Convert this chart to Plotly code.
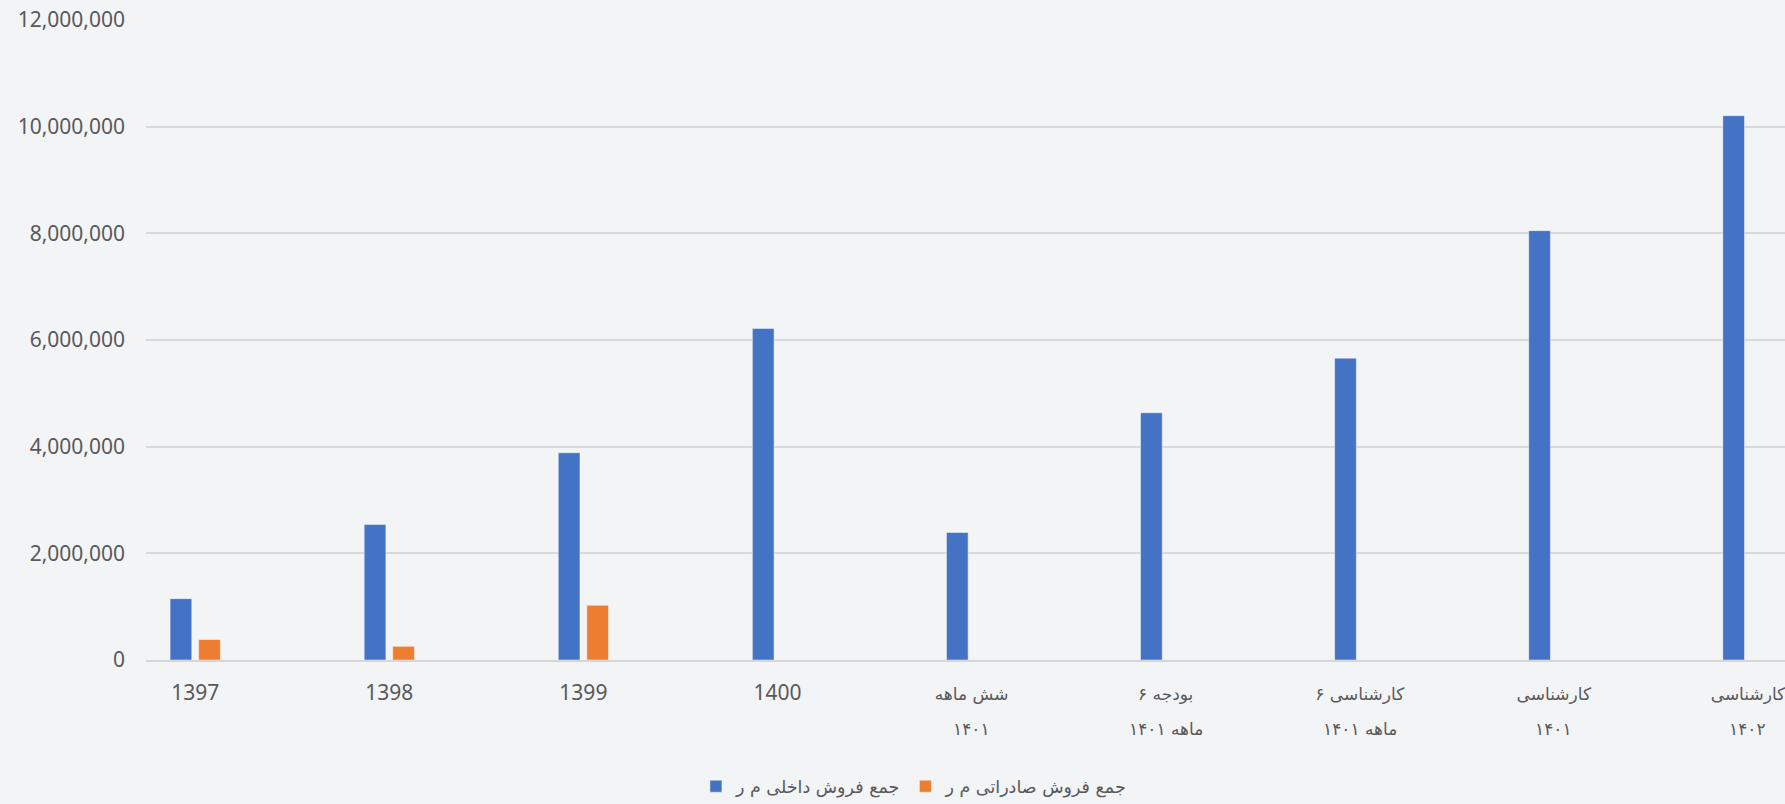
import plotly.graph_objects as go

# ---- data ----
categories = ["1397", "1398", "1399", "1400",
              "شش ماهه ۱۴۰۱", "بودجه ۶ ماهه ۱۴۰۱", "کارشناسی ۶ ماهه ۱۴۰۱",
              "کارشناسی ۱۴۰۱", "کارشناسی ۱۴۰۲"]
label_line1 = ["1397", "1398", "1399", "1400",
               "شش ماهه", "بودجه ۶", "کارشناسی ۶", "کارشناسی", "کارشناسی"]
label_line2 = ["", "", "", "", "۱۴۰۱", "ماهه ۱۴۰۱", "ماهه ۱۴۰۱", "۱۴۰۱", "۱۴۰۲"]

domestic = [1150000, 2540000, 3885000, 6215000, 2390000, 4635000, 5660000, 8050000, 10205000]
export = [384000, 256000, 1025000, None, None, None, None, None, None]

series_names = ["جمع فروش داخلی م ر", "جمع فروش صادراتی م ر"]
y_ticks = [0, 2000000, 4000000, 6000000, 8000000, 10000000, 12000000]

# ---- style ----
BG = "#f3f4f6"
TXT = "#595959"
FONT = "Noto Sans, DejaVu Sans, sans-serif"
FA_FONT = "DejaVu Sans"
FA_SIZE = 17


def fa(t):
    if t.isascii():
        return t
    return f'<span style="font-family:{FA_FONT}; font-size:{FA_SIZE}px">{t}</span>'


fig = go.Figure()
fig.add_trace(go.Bar(x=categories, y=domestic, name=series_names[0],
                     marker=dict(color="#4472C4", line=dict(color="rgba(255,255,255,0.45)", width=1))))
fig.add_trace(go.Bar(x=categories, y=export, name=series_names[1],
                     marker=dict(color="#ED7D31", line=dict(color="rgba(255,255,255,0.45)", width=1))))

for c, t in zip(categories, label_line2):
    if t:
        fig.add_annotation(x=c, xref="x", y=0, yref="paper", yanchor="middle",
                           yshift=-69, text=t, showarrow=False,
                           font=dict(family=FA_FONT, size=FA_SIZE, color=TXT))

fig.update_layout(
    width=1785, height=804,
    paper_bgcolor=BG, plot_bgcolor=BG,
    margin=dict(l=146, r=0, t=20, b=144),
    barmode="group", bargap=0.706, bargroupgap=0.24,
    font=dict(family=FONT, color=TXT, size=21),
    legend=dict(orientation="h", xref="container", yref="container",
                x=0.512, xanchor="center", y=0.022, yanchor="middle",
                font=dict(family=FA_FONT, size=17.5, color=TXT), bgcolor="rgba(0,0,0,0)"),
    showlegend=True,
)
fig.update_xaxes(
    type="category", range=[-0.2535, 8.191],
    tickmode="array", tickvals=categories, ticktext=[fa(t) for t in label_line1],
    showgrid=False, showline=True, linecolor="#d6d6d6", linewidth=2,
    ticks="", ticklabelstandoff=13,
    tickfont=dict(family=FONT, size=21, color=TXT),
)
fig.update_yaxes(
    range=[0, 12000000], tickmode="array", tickvals=y_ticks,
    tickformat=",d", showgrid=True, gridcolor="#d9d9d9", gridwidth=2,
    zeroline=False, showline=False, ticks="", ticklabelstandoff=20,
    tickfont=dict(family=FONT, size=21, color=TXT),
)

fig.write_html("out.html", config={"displayModeBar": False},
               post_script="document.body.style.margin='0';document.body.style.padding='0';")
